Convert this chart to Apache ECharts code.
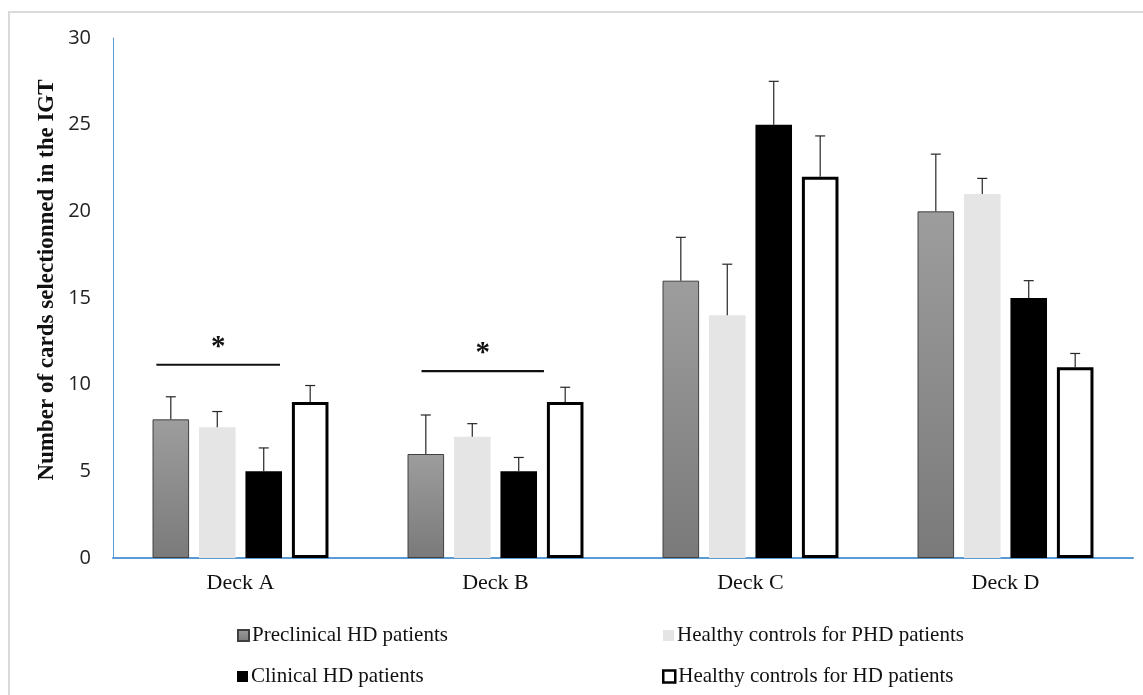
<!DOCTYPE html>
<html>
<head>
<meta charset="utf-8">
<script src="https://cdn.jsdelivr.net/npm/echarts@6/dist/echarts.min.js"></script>
<style>html,body{margin:0;padding:0;background:#fff;}#c{width:1143px;height:695px;}</style>
</head>
<body>
<div id="c"></div>
<script>
// ---- data ----
const categories = ['Deck A', 'Deck B', 'Deck C', 'Deck D'];
const seriesNames = ['Preclinical HD patients', 'Healthy controls for PHD patients', 'Clinical HD patients', 'Healthy controls for HD patients'];
const preclinical = [8, 6, 16, 20];
const preclinicalUpper = [9.3, 8.25, 18.5, 23.3];
const controlsPHD = [7.55, 7, 14, 21];
const controlsPHDUpper = [8.45, 7.75, 16.95, 21.9];
const clinical = [5, 5, 25, 15];
const clinicalUpper = [6.35, 5.8, 27.5, 16];
const controlsHD = [9, 9, 22, 11];
const controlsHDUpper = [9.95, 9.85, 24.35, 11.8];
const yTicks = [0, 5, 10, 15, 20, 25, 30];
// significance annotations: category index, span (in category units), height (value)
const sigCategory = [0, 1];
const sigFrom = [-0.33, -0.29];
const sigTo = [0.155, 0.19];
const sigValue = [11.15, 10.78];
const sigLabel = ['*', '*'];

// ---- layout constants ----
const CAT_GAP = 0.31, BAR_GAP = 0.27, NBARS = 4;

const chart = echarts.init(document.getElementById('c'));

function errRender(idx) {
  return function (params, api) {
    const cat = api.value(0), val = api.value(1), up = api.value(2);
    const band = api.size([1, 0])[0];
    const groupW = band * (1 - CAT_GAP);
    const bw = groupW / (NBARS + (NBARS - 1) * BAR_GAP);
    const base = api.coord([cat, val]);
    const x = base[0] - groupW / 2 + idx * bw * (1 + BAR_GAP) + bw / 2;
    const yTop = api.coord([cat, up])[1];
    const st = { stroke: '#262626', lineWidth: 1.2 };
    return {
      type: 'group', children: [
        { type: 'line', shape: { x1: x, y1: base[1], x2: x, y2: yTop }, style: st },
        { type: 'line', shape: { x1: x - 5, y1: yTop, x2: x + 5, y2: yTop }, style: st }
      ]
    };
  };
}

function sigRender(params, api) {
  const cat = api.value(0), from = api.value(1), to = api.value(2), v = api.value(3);
  const band = api.size([1, 0])[0];
  const c = api.coord([cat, v]);
  const x1 = c[0] + from * band, x2 = c[0] + to * band;
  return {
    type: 'group', children: [
      { type: 'line', shape: { x1: x1, y1: c[1], x2: x2, y2: c[1] }, style: { stroke: '#111', lineWidth: 2.2 } },
      { type: 'text', style: { text: sigLabel[params.dataIndex], x: (x1 + x2) / 2, y: c[1] - 3, align: 'center', verticalAlign: 'bottom', font: 'bold 29px "Liberation Serif"', fill: '#111' } }
    ]
  };
}

const styles = [
  { color: { type: 'linear', x: 0, y: 0, x2: 0, y2: 1, colorStops: [{ offset: 0, color: '#9d9d9d' }, { offset: 1, color: '#7a7a7a' }] }, borderColor: '#404040', borderWidth: 1 },
  { color: '#e5e5e5' },
  { color: '#000000' },
  { color: '#ffffff', borderColor: '#000000', borderWidth: 3 }
];
const values = [preclinical, controlsPHD, clinical, controlsHD];
const uppers = [preclinicalUpper, controlsPHDUpper, clinicalUpper, controlsHDUpper];

const series = [];
seriesNames.forEach((n, i) => {
  series.push({
    name: n, type: 'bar', data: values[i], itemStyle: styles[i],
    barCategoryGap: (CAT_GAP * 100) + '%', barGap: (BAR_GAP * 100) + '%', z: 2
  });
});
seriesNames.forEach((n, i) => {
  series.push({
    name: 'err' + i, type: 'custom', renderItem: errRender(i), z: 3,
    encode: { x: 0, y: 1 },
    data: categories.map((c, k) => [k, values[i][k], uppers[i][k]])
  });
});
series.push({
  name: 'sig', type: 'custom', renderItem: sigRender, z: 4,
  encode: { x: 0, y: 3 },
  data: sigCategory.map((c, k) => [c, sigFrom[k], sigTo[k], sigValue[k]])
});

const legendText = { fontFamily: 'Liberation Serif', fontSize: 21, color: '#111', padding: [0, 0, 0, -2] };
const legendPos = [[237, 625], [663, 625], [237, 666], [662, 666]];
const legends = seriesNames.map((n, i) => ({
  data: [n], left: legendPos[i][0], top: legendPos[i][1], padding: 0,
  icon: 'rect', itemWidth: i === 3 ? 12 : 11, itemHeight: i === 3 ? 12 : 11, itemGap: 0,
  selectedMode: false, textStyle: legendText,
  itemStyle: i === 3 ? { borderWidth: 2.5 } : {}
}));

chart.setOption({
  animation: false,
  backgroundColor: '#ffffff',
  grid: { left: 113, right: 10, top: 38, bottom: 137, containLabel: false },
  legend: legends,
  xAxis: {
    type: 'category', data: categories,
    axisLine: { lineStyle: { color: '#5b9bd5', width: 2 } },
    axisTick: { show: false },
    axisLabel: { fontFamily: 'Liberation Serif', fontSize: 22, color: '#111', margin: 14 }
  },
  yAxis: {
    type: 'value', min: yTicks[0], max: yTicks[yTicks.length - 1], interval: 5,
    axisLine: { show: true, lineStyle: { color: '#5b9bd5', width: 1 } },
    axisTick: { show: false },
    splitLine: { show: false },
    axisLabel: { fontFamily: 'Open Sans', fontSize: 20, color: '#222', margin: 22 }
  },
  graphic: [
    { type: 'rect', shape: { x: 9, y: 12, width: 1300, height: 900 }, style: { fill: 'none', stroke: '#d9d9d9', lineWidth: 2 }, silent: true },
    { type: 'text', x: 47, y: 280, rotation: Math.PI / 2, style: { text: 'Number of cards selectionned in the IGT', font: 'bold 23px "Liberation Serif"', fill: '#111', align: 'center', verticalAlign: 'middle' } }
  ],
  series: series
});
</script>
</body>
</html>
